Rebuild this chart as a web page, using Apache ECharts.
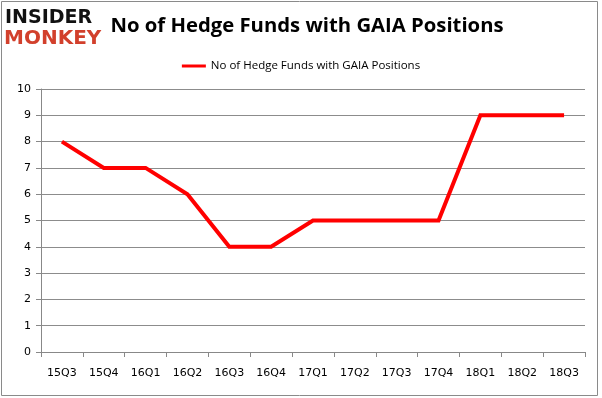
<!DOCTYPE html>
<html>
<head>
<meta charset="utf-8">
<script src="https://cdn.jsdelivr.net/npm/echarts@6/dist/echarts.min.js"></script>
<style>
  html, body { margin: 0; padding: 0; background: #fff; }
  #chart { width: 602px; height: 398px; }
</style>
</head>
<body>
<div id="chart"></div>
<script>
const quarters = ['15Q3', '15Q4', '16Q1', '16Q2', '16Q3', '16Q4', '17Q1', '17Q2', '17Q3', '17Q4', '18Q1', '18Q2', '18Q3']
const fundCounts = [8, 7, 7, 6, 4, 4, 5, 5, 5, 5, 9, 9, 9]
const seriesName = 'No of Hedge Funds with GAIA Positions'

const chart = echarts.init(document.getElementById('chart'), null, { renderer: 'canvas' })

chart.setOption({
  animation: false,
  title: {
    text: 'No of Hedge Funds with GAIA Positions',
    left: 302,
    top: 11,
    textAlign: 'center',
    textStyle: {
      fontFamily: 'Open Sans',
      fontWeight: 'bold',
      fontSize: 20.3,
      color: '#000'
    }
  },
  legend: {
    data: [seriesName],
    top: 55,
    left: 'center',
    icon: 'rect',
    itemWidth: 24,
    itemHeight: 3,
    itemGap: 4,
    textStyle: { fontFamily: 'Open Sans', fontSize: 11.5, color: '#000' }
  },
  graphic: [
    // chart border
    {
      type: 'rect',
      shape: { x: 1.5, y: 1.5, width: 596, height: 394 },
      style: { fill: 'none', stroke: '#8a8a8a', lineWidth: 1 }
    },
    // logo
    {
      type: 'text',
      left: 5, top: 9,
      style: { text: 'INSIDER', fontFamily: 'DejaVu Sans', fontWeight: 'bold', fontSize: 19, fill: '#111' }
    },
    {
      type: 'text',
      left: 4, top: 29,
      style: { text: 'MONKEY', fontFamily: 'DejaVu Sans', fontWeight: 'bold', fontSize: 20, fill: '#d2402c' }
    }
  ],
  grid: {
    left: 41,
    right: 17,
    top: 89,
    bottom: 46
  },
  xAxis: {
    type: 'category',
    data: quarters,
    boundaryGap: true,
    axisLine: { lineStyle: { color: '#888', width: 1 } },
    axisTick: { show: true, length: 5, lineStyle: { color: '#888' } },
    axisLabel: { fontFamily: 'DejaVu Sans', fontSize: 11, color: '#000', margin: 16 }
  },
  yAxis: {
    type: 'value',
    min: 0,
    max: 10,
    interval: 1,
    axisLine: { show: true, lineStyle: { color: '#888', width: 1 } },
    axisTick: { show: true, length: 5, lineStyle: { color: '#888' } },
    axisLabel: { fontFamily: 'DejaVu Sans', fontSize: 11, color: '#000', margin: 10 },
    splitLine: { lineStyle: { color: '#8c8c8c', width: 1 } }
  },
  series: [{
    name: seriesName,
    type: 'line',
    data: fundCounts,
    symbol: 'none',
    lineStyle: { color: '#ff0000', width: 4, join: 'miter' },
    itemStyle: { color: '#ff0000' }
  }]
})
</script>
</body>
</html>
